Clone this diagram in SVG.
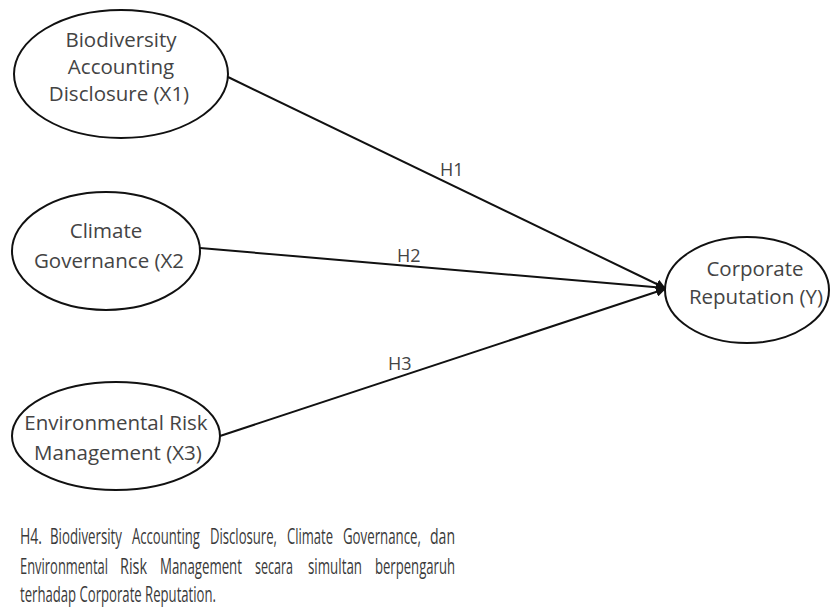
<svg xmlns="http://www.w3.org/2000/svg" width="831" height="608" viewBox="0 0 831 608">
<defs>
<marker id="arr" viewBox="0 0 10 10" refX="9" refY="5" markerWidth="5" markerHeight="5" orient="auto" markerUnits="strokeWidth">
<path d="M0,0 L10,5 L0,10 z" fill="#111"/>
</marker>
<style>
.node ellipse{fill:#fff;stroke:#111;stroke-width:2}
.t{font-family:"Open Sans","Noto Sans",sans-serif;font-size:20.5px;fill:#444;text-anchor:middle}
.lbl{font-family:"Open Sans","Noto Sans",sans-serif;font-size:18px;fill:#444}
.cap text{font-family:"Open Sans","Noto Sans",sans-serif;font-size:21px;fill:#3a3a3a}
.edge{stroke:#111;stroke-width:2;fill:none;marker-end:url(#arr)}
</style>
</defs>
<rect width="831" height="608" fill="#fff"/>
<g id="connectors">
<line class="edge" x1="228" y1="77" x2="665" y2="288"/>
<line class="edge" x1="200" y1="248" x2="665" y2="288"/>
<line class="edge" x1="220" y1="436" x2="665" y2="289"/>
<text class="lbl" x="440" y="176">H1</text>
<text class="lbl" x="397" y="262">H2</text>
<text class="lbl" x="388" y="370">H3</text>
</g>
<g id="x1" class="node">
<ellipse cx="121" cy="74" rx="107" ry="64"/>
<text class="t" x="121" y="47">Biodiversity</text>
<text class="t" x="121" y="74">Accounting</text>
<text class="t" x="119" y="101">Disclosure (X1)</text>
</g>
<g id="x2" class="node">
<ellipse cx="106" cy="251" rx="94" ry="59"/>
<text class="t" x="106" y="238">Climate</text>
<text class="t" x="109" y="268">Governance (X2</text>
</g>
<g id="x3" class="node">
<ellipse cx="116" cy="436" rx="104" ry="54"/>
<text class="t" x="116" y="430">Environmental Risk</text>
<text class="t" x="118" y="460">Management (X3)</text>
</g>
<g id="y" class="node">
<ellipse cx="747" cy="290" rx="82" ry="53"/>
<text class="t" x="755" y="276">Corporate</text>
<text class="t" x="756" y="304">Reputation (Y)</text>
</g>
<g id="caption" class="cap">
<g transform="translate(0,544) scale(0.64,1)">
<text x="31.25" y="0" textLength="34.4" lengthAdjust="spacingAndGlyphs">H4.</text>
<text x="78.1" y="0" textLength="112.5" lengthAdjust="spacingAndGlyphs">Biodiversity</text>
<text x="206.25" y="0" textLength="106.25" lengthAdjust="spacingAndGlyphs">Accounting</text>
<text x="328.1" y="0" textLength="104.7" lengthAdjust="spacingAndGlyphs">Disclosure,</text>
<text x="448.4" y="0" textLength="71.9" lengthAdjust="spacingAndGlyphs">Climate</text>
<text x="535.9" y="0" textLength="121.9" lengthAdjust="spacingAndGlyphs">Governance,</text>
<text x="671.9" y="0" textLength="39.1" lengthAdjust="spacingAndGlyphs">dan</text>
</g>
<g transform="translate(0,574) scale(0.64,1)">
<text x="31.25" y="0" textLength="137.5" lengthAdjust="spacingAndGlyphs">Environmental</text>
<text x="187.5" y="0" textLength="42.2" lengthAdjust="spacingAndGlyphs">Risk</text>
<text x="250" y="0" textLength="128.1" lengthAdjust="spacingAndGlyphs">Management</text>
<text x="398.4" y="0" textLength="59.4" lengthAdjust="spacingAndGlyphs">secara</text>
<text x="481.25" y="0" textLength="84.4" lengthAdjust="spacingAndGlyphs">simultan</text>
<text x="585.9" y="0" textLength="125" lengthAdjust="spacingAndGlyphs">berpengaruh</text>
</g>
<g transform="translate(0,602) scale(0.64,1)">
<text x="31.25" y="0" textLength="306.25" lengthAdjust="spacingAndGlyphs">terhadap Corporate Reputation.</text>
</g>
</g>
</svg>
